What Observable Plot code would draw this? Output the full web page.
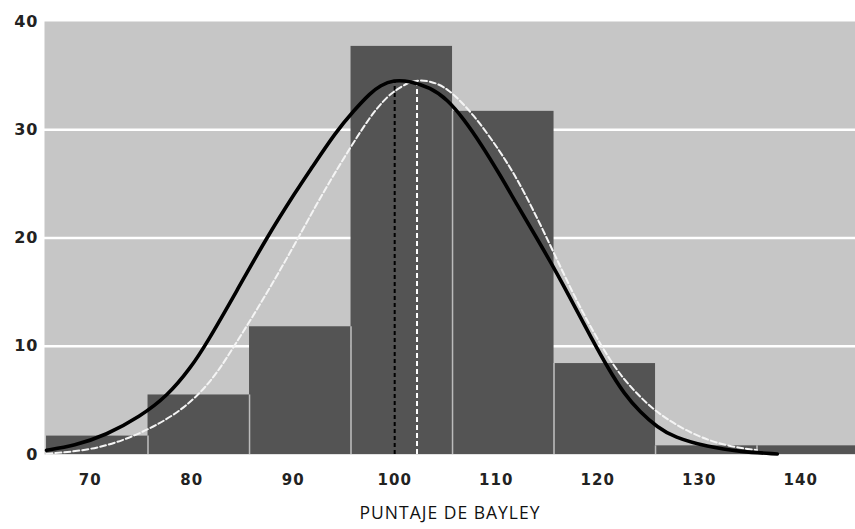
<!DOCTYPE html>
<html>
<head>
<meta charset="utf-8">
<script src="https://cdn.jsdelivr.net/npm/d3@7"></script>
<script src="https://cdn.jsdelivr.net/npm/@observablehq/plot@0.6"></script>
<style>
  html, body { margin: 0; padding: 0; background: #fff; }
</style>
</head>
<body>
<div id="chart"></div>
<script>
// Histogram bins (lower and upper edges) and counts
const binStart = [65.7, 75.7, 85.7, 95.7, 105.7, 115.7, 125.7, 135.7];
const binEnd   = [75.7, 85.7, 95.7, 105.7, 115.7, 125.7, 135.7, 145.7];
const counts   = [1.7, 5.5, 11.8, 37.7, 31.7, 8.4, 0.8, 0.8];

// Black fitted curve
const blackX = [65.7, 68.4, 71.6, 74.9, 77.6, 79.9, 81.5, 84.5, 87.3, 90.4, 91.7, 94.2, 96.0, 97.6, 98.6, 99.9, 101.5, 103.5, 105.2, 106.8, 108.5, 110.4, 112.1, 114.0, 115.4, 116.7, 118.0, 119.3, 121.0, 122.6, 124.2, 125.9, 127.5, 130.8, 134.1, 137.7];
const blackY = [0.4, 0.8, 1.8, 3.5, 5.4, 8.0, 10.3, 15.2, 19.9, 24.5, 26.3, 29.8, 31.8, 33.4, 34.1, 34.6, 34.5, 33.9, 32.8, 31.0, 28.7, 25.8, 23.0, 20.0, 17.7, 15.5, 13.2, 10.9, 8.0, 5.6, 3.9, 2.5, 1.6, 0.7, 0.25, 0.05];

// White dashed fitted curve
const whiteX = [65.7, 70.0, 73.3, 75.9, 78.2, 80.5, 82.5, 84.1, 85.8, 88.4, 90.5, 92.7, 95.0, 97.6, 99.3, 100.2, 101.2, 102.2, 103.5, 105.2, 107.8, 110.4, 112.1, 113.7, 115.4, 117.7, 119.3, 121.0, 122.6, 124.2, 125.9, 129.2, 132.5, 135.7];
const whiteY = [0.06, 0.4, 1.3, 2.4, 3.6, 5.3, 7.5, 9.9, 12.4, 16.5, 20.0, 23.8, 27.4, 31.3, 33.1, 33.7, 34.3, 34.6, 34.5, 33.9, 31.4, 28.0, 25.4, 22.5, 19.2, 14.6, 11.8, 9.0, 6.9, 5.3, 3.8, 1.9, 0.8, 0.4];

// Vertical mean markers
const blackMean = 100.0, blackPeak = 34.5;
const whiteMean = 102.2, whitePeak = 34.7;

const xTicks = [70, 80, 90, 100, 110, 120, 130, 140];
const yTicks = [0, 10, 20, 30, 40];
const gridY = [10, 20, 30];
const xTitle = "PUNTAJE DE BAYLEY";

const bins = counts.map((c, i) => ({x1: binStart[i], x2: binEnd[i], y: c}));
const seps = binEnd.slice(0, -1).map((e, i) => ({x: e, y2: Math.min(counts[i], counts[i + 1])}));
const black = blackX.map((x, i) => ({x, y: blackY[i]}));
const white = whiteX.map((x, i) => ({x, y: whiteY[i]}));

const chart = Plot.plot({
  width: 855,
  height: 529,
  marginLeft: 44,
  marginRight: 0,
  marginTop: 21,
  marginBottom: 75,
  style: {fontFamily: "'DejaVu Sans', sans-serif", background: "#fff", color: "#222"},
  x: {domain: [65.5, 145.4]},
  y: {domain: [0, 40]},
  marks: [
    Plot.frame({fill: "#c6c6c6", stroke: null}),
    Plot.ruleY(gridY, {stroke: "#ffffff", strokeWidth: 2.5}),
    Plot.rectY(bins, {x1: "x1", x2: "x2", y: "y", fill: "#545454", clip: true}),
    Plot.ruleX(seps, {x: "x", y1: 0, y2: "y2", stroke: "#bcbcbc", strokeWidth: 1.5}),
    Plot.ruleX([blackMean], {y1: 0, y2: blackPeak, stroke: "#000", strokeWidth: 2, strokeDasharray: "4,3"}),
    Plot.ruleX([whiteMean], {y1: 0, y2: whitePeak, stroke: "#fff", strokeWidth: 2, strokeDasharray: "5,3"}),
    Plot.line(white, {x: "x", y: "y", stroke: "#f4f4f4", strokeWidth: 2, strokeDasharray: "6,3", curve: "basis"}),
    Plot.line(black, {x: "x", y: "y", stroke: "#000", strokeWidth: 3.6, curve: "basis"}),
    Plot.axisY(yTicks, {tickSize: 0, tickPadding: 6, fontSize: 16, fontWeight: "bold", label: null}),
    Plot.axisX(xTicks, {tickSize: 0, tickPadding: 20, fontSize: 15, fontWeight: "bold", label: null}),
    Plot.text([xTitle], {frameAnchor: "bottom", dy: 64, fontSize: 17.5, fontFamily: "'Open Sans', sans-serif", fill: "#111"})
  ]
});
chart.querySelectorAll("text").forEach(t => t.style.letterSpacing = "1px");
document.getElementById("chart").append(chart);
</script>
</body>
</html>
